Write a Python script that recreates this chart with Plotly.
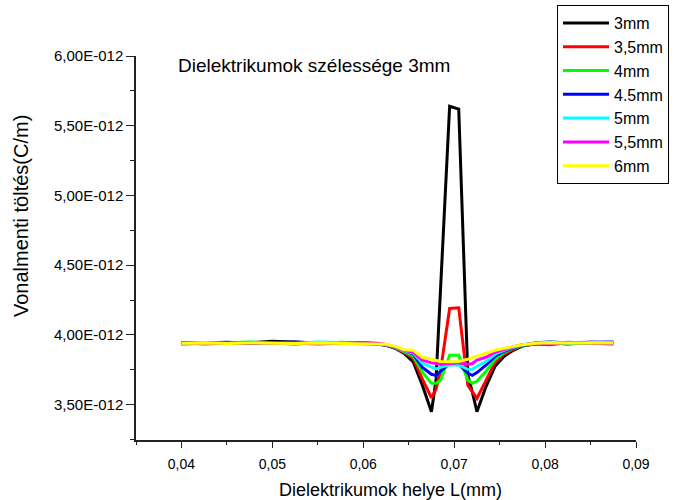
import plotly.graph_objects as go

# Positions along the dielectric (mm)
x_pos = [0.040, 0.0425, 0.045, 0.0475, 0.050, 0.0525, 0.055, 0.0575, 0.060, 0.0615,
         0.0625, 0.0635, 0.0645, 0.0655, 0.0665, 0.0675, 0.068, 0.0685, 0.0695, 0.0705,
         0.0715, 0.072, 0.0725, 0.0735, 0.0745, 0.0755, 0.0765, 0.0775, 0.079, 0.0805,
         0.0825, 0.085, 0.0875]

# Line charge values in units of 1E-012 C/m
q_3mm = [3.940, 3.945, 3.942, 3.944, 3.955, 3.948, 3.943, 3.946, 3.941, 3.936,
         3.926, 3.905, 3.868, 3.807, 3.640, 3.450, 3.675, 4.320, 5.640, 5.620,
         3.710, 3.590, 3.450, 3.630, 3.776, 3.848, 3.890, 3.920, 3.937, 3.944,
         3.935, 3.947, 3.942]
q_3_5mm = [3.935, 3.940, 3.946, 3.938, 3.942, 3.936, 3.945, 3.940, 3.937, 3.935,
           3.927, 3.907, 3.874, 3.833, 3.683, 3.550, 3.610, 3.745, 4.190, 4.195,
           3.640, 3.590, 3.545, 3.675, 3.805, 3.862, 3.897, 3.924, 3.936, 3.930,
           3.945, 3.940, 3.935]
q_4mm = [3.942, 3.938, 3.944, 3.950, 3.940, 3.945, 3.938, 3.948, 3.942, 3.937,
         3.928, 3.909, 3.880, 3.848, 3.733, 3.654, 3.654, 3.675, 3.855, 3.855,
         3.675, 3.654, 3.668, 3.740, 3.826, 3.876, 3.905, 3.924, 3.940, 3.948,
         3.942, 3.938, 3.945]
q_4_5mm = [3.945, 3.942, 3.948, 3.940, 3.944, 3.950, 3.942, 3.939, 3.944, 3.938,
           3.929, 3.911, 3.884, 3.862, 3.768, 3.718, 3.710, 3.740, 3.797, 3.790,
           3.725, 3.711, 3.730, 3.783, 3.848, 3.883, 3.908, 3.926, 3.945, 3.950,
           3.944, 3.948, 3.950]
q_5mm = [3.938, 3.946, 3.940, 3.947, 3.941, 3.938, 3.950, 3.944, 3.940, 3.939,
         3.930, 3.913, 3.887, 3.869, 3.797, 3.768, 3.757, 3.768, 3.786, 3.783,
         3.754, 3.754, 3.776, 3.810, 3.862, 3.890, 3.912, 3.928, 3.942, 3.948,
         3.941, 3.946, 3.944]
q_5_5mm = [3.944, 3.936, 3.941, 3.945, 3.938, 3.942, 3.935, 3.941, 3.946, 3.940,
           3.932, 3.915, 3.890, 3.876, 3.819, 3.800, 3.795, 3.790, 3.795, 3.800,
           3.790, 3.795, 3.820, 3.840, 3.876, 3.897, 3.915, 3.930, 3.940, 3.935,
           3.948, 3.940, 3.938]
q_6mm = [3.940, 3.942, 3.938, 3.943, 3.940, 3.938, 3.942, 3.940, 3.938, 3.940,
         3.934, 3.918, 3.894, 3.890, 3.840, 3.826, 3.819, 3.810, 3.808, 3.810,
         3.826, 3.837, 3.847, 3.869, 3.890, 3.905, 3.919, 3.930, 3.940, 3.944,
         3.942, 3.944, 3.942]

series_names = ["3mm", "3,5mm", "4mm", "4.5mm", "5mm", "5,5mm", "6mm"]
series_values = [q_3mm, q_3_5mm, q_4mm, q_4_5mm, q_5mm, q_5_5mm, q_6mm]
series_colors = ["#000000", "#ff0000", "#00ff00", "#0000ff", "#00ffff", "#ff00ff", "#ffff00"]

x_tick_vals = [0.04, 0.05, 0.06, 0.07, 0.08, 0.09]
x_tick_text = ["0,04", "0,05", "0,06", "0,07", "0,08", "0,09"]
y_tick_vals = [3.5e-12, 4.0e-12, 4.5e-12, 5.0e-12, 5.5e-12, 6.0e-12]
y_tick_text = ["3,50E-012", "4,00E-012", "4,50E-012", "5,00E-012", "5,50E-012", "6,00E-012"]

FONT = "Liberation Sans, Arial, sans-serif"
PL, PT, PW, PH = 136, 56, 500, 384   # plot area in pixels


def px_x(p):
    return (p - PL) / PW


def px_y(p):
    return (PT + PH - p) / PH


fig = go.Figure()
for name, vals, col in zip(series_names, series_values, series_colors):
    fig.add_trace(go.Scatter(
        x=x_pos, y=[v * 1e-12 for v in vals], mode="lines", name=name,
        line=dict(color=col, width=3),
    ))

fig.update_layout(
    width=676, height=500,
    margin=dict(l=PL, r=676 - PL - PW, t=PT, b=500 - PT - PH, autoexpand=False),
    paper_bgcolor="white", plot_bgcolor="white",
    font=dict(family=FONT, color="black"),
    showlegend=True,
    legend=dict(
        x=px_x(557), y=px_y(5), xanchor="left", yanchor="top",
        bordercolor="black", borderwidth=1, bgcolor="white",
        font=dict(family=FONT, size=16, color="black"),
        itemwidth=46,
    ),
    xaxis=dict(
        range=[0.035, 0.09], showgrid=False, zeroline=False,
        showline=True, linecolor="#222222", linewidth=1.5,
        ticks="outside", ticklen=6, tickwidth=1, tickcolor="#222222",
        tickvals=x_tick_vals, ticktext=x_tick_text, ticklabelstandoff=4,
        tickfont=dict(family=FONT, size=14, color="black"),
        minor=dict(ticks="outside", ticklen=3, tickwidth=1, tickcolor="#222222",
                   tickvals=[0.035, 0.045, 0.055, 0.065, 0.075, 0.085]),
    ),
    yaxis=dict(
        range=[3.247e-12, 6.0e-12], showgrid=False, zeroline=False,
        showline=True, linecolor="#222222", linewidth=1.5,
        ticks="outside", ticklen=8, tickwidth=1, tickcolor="#222222",
        tickvals=y_tick_vals, ticktext=y_tick_text,
        tickfont=dict(family=FONT, size=15, color="black"),
        minor=dict(ticks="outside", ticklen=4, tickwidth=1, tickcolor="#222222",
                   tickvals=[3.25e-12, 3.75e-12, 4.25e-12, 4.75e-12, 5.25e-12, 5.75e-12]),
    ),
    annotations=[
        dict(text="Dielektrikumok szélessége 3mm", xref="paper", yref="paper",
             x=px_x(176), y=px_y(66), xanchor="left", yanchor="middle",
             showarrow=False, font=dict(family=FONT, size=19, color="black")),
        dict(text="Vonalmenti töltés(C/m)", xref="paper", yref="paper",
             x=px_x(21), y=px_y(216), xanchor="center", yanchor="middle",
             textangle=-90, showarrow=False,
             font=dict(family=FONT, size=20, color="black")),
        dict(text="Dielektrikumok helye L(mm)", xref="paper", yref="paper",
             x=px_x(390), y=px_y(490), xanchor="center", yanchor="middle",
             showarrow=False, font=dict(family=FONT, size=18, color="black")),
    ],
)

fig.write_html("out.html")
